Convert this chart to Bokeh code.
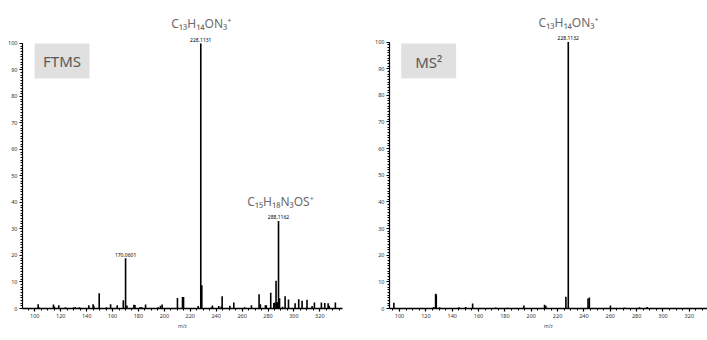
from bokeh.plotting import figure
from bokeh.layouts import row
from bokeh.models import SingleIntervalTicker, ColumnDataSource
from bokeh.core.properties import value
from bokeh.embed import file_html
from bokeh.resources import INLINE

# ---------------- data ----------------
# FTMS full scan spectrum (m/z, relative abundance)
ftms_mz = [102.6, 103.0, 114.4, 115.1, 118.5, 123.7, 130.0, 131.3, 134.5, 141.7, 145.0, 145.5,
           149.7, 155.4, 158.5, 163.6, 168.3, 170.06, 171.1, 176.5, 177.3, 181.1, 182.4, 185.5,
           195.2, 197.0, 198.3, 210.1, 214.0, 214.8, 226.1, 228.11, 228.9, 236.3, 237.1, 242.0,
           244.0, 244.6, 250.5, 253.6, 262.0, 267.2, 273.1, 274.1, 278.0, 278.7, 282.1, 284.5,
           285.3, 286.2, 286.8, 287.5, 288.11, 288.9, 291.2, 293.2, 295.8, 300.9, 303.7, 306.3,
           310.1, 314.0, 315.8, 321.2, 323.8, 326.4, 327.2, 332.0]
ftms_int = [1.6, 0.6, 1.5, 0.8, 1.2, 0.5, 0.5, 0.5, 0.5, 1.2, 1.6, 1.0,
            5.8, 0.5, 1.6, 1.2, 3.1, 19.0, 1.1, 1.4, 1.3, 0.5, 0.6, 1.5,
            0.5, 1.0, 1.5, 4.0, 4.3, 4.3, 0.9, 100.0, 8.8, 0.5, 1.1, 0.9,
            0.8, 4.6, 1.0, 2.3, 0.5, 1.2, 5.4, 1.6, 1.2, 1.2, 5.9, 2.1,
            2.3, 10.5, 2.4, 2.4, 33.0, 3.9, 0.7, 4.6, 3.4, 2.0, 3.5, 2.9,
            3.3, 0.9, 2.3, 2.3, 2.1, 2.0, 1.0, 2.3]

# MS2 product ion spectrum
ms2_mz = [95.7, 125.9, 127.4, 127.9, 130.4, 145.1, 150.2, 155.5, 173.0, 181.9, 194.4,
          210.1, 211.1, 226.3, 228.11, 243.1, 244.1, 260.1, 270.7, 282.2, 288.0]
ms2_int = [2.2, 0.6, 5.5, 5.3, 0.5, 0.5, 0.6, 1.9, 0.4, 0.3, 1.1,
           1.4, 1.0, 4.4, 100.0, 3.8, 4.1, 1.1, 0.4, 0.5, 0.6]

# peak annotations
ftms_lab_mz = [170.06, 228.11, 288.11]
ftms_lab_int = [19.0, 100.0, 33.0]
ftms_lab_txt = ["170.0601", "228.1131", "288.1162"]
ms2_lab_mz = [228.11]
ms2_lab_int = [100.0]
ms2_lab_txt = ["228.1132"]

# formula annotations (text, m/z anchor, height)
ftms_formulas = ["C\u2081\u2083H\u2081\u2084ON\u2083\u207a", "C\u2081\u2085H\u2081\u2088N\u2083OS\u207a"]
ftms_formula_mz = [228.5, 289.6]
ftms_formula_y = [107.5, 40.2]
ms2_formulas = ["C\u2081\u2083H\u2081\u2084ON\u2083\u207a"]
ms2_formula_mz = [228.3]
ms2_formula_y = [107.3]

panel_titles = ["FTMS", "MS\u00b2"]
x_label = "m/z"

FONT = "Noto Sans"
GREY = "#6b6b6b"


def make_panel(mz, inten, lab_mz, lab_int, lab_txt, f_txt, f_mz, f_y, title,
               x_range, y_end, width, height, border_left, border_right, border_bottom,
               box, box_text_xy):
    p = figure(width=width, height=height, x_range=x_range, y_range=(0, y_end),
               output_backend="svg", toolbar_location=None,
               min_border_left=border_left, min_border_right=border_right,
               min_border_top=8, min_border_bottom=border_bottom)
    p.outline_line_color = None
    p.xgrid.visible = False
    p.ygrid.visible = False

    src = ColumnDataSource(dict(x=mz, y=inten, y0=[0] * len(mz)))
    p.segment(x0="x", y0="y0", x1="x", y1="y", source=src,
              line_color="black", line_width=1.6)

    ls = ColumnDataSource(dict(x=lab_mz, y=[v + 0.6 for v in lab_int], t=lab_txt))
    p.text(x="x", y="y", text="t", source=ls, text_font=value(FONT),
           text_font_size="5px", text_align="center", text_baseline="bottom",
           text_color="black")

    fs = ColumnDataSource(dict(x=f_mz, y=f_y, t=f_txt))
    p.text(x="x", y="y", text="t", source=fs, text_font=value(FONT),
           text_font_size="12px", text_align="center", text_baseline="middle",
           text_color=GREY)

    p.quad(left=[box[0]], right=[box[1]], bottom=[box[2]], top=[box[3]],
           fill_color="#e0e0e0", line_color=None)
    p.text(x=[box_text_xy[0]], y=[box_text_xy[1]], text=[title],
           text_font=value(FONT), text_font_size="15px", text_align="center",
           text_baseline="middle", text_color="#595959")

    xa = p.xaxis[0]
    xa.ticker = SingleIntervalTicker(interval=20, num_minor_ticks=4)
    xa.axis_label = x_label
    xa.axis_label_text_font = FONT
    xa.axis_label_text_font_size = "5px"
    xa.axis_label_text_font_style = "normal"
    xa.axis_label_standoff = 2
    xa.major_label_text_font = FONT
    xa.major_label_text_font_size = "5.5px"
    xa.major_label_text_color = "#333333"
    xa.major_label_standoff = 2
    xa.axis_line_width = 1.6
    xa.major_tick_out = 3
    xa.major_tick_in = 0
    xa.minor_tick_out = 2
    xa.minor_tick_in = 0
    xa.major_tick_line_width = 1.2
    xa.minor_tick_line_width = 1.0

    ya = p.yaxis[0]
    ya.ticker = SingleIntervalTicker(interval=10, num_minor_ticks=10)
    ya.bounds = (0, 100)
    ya.major_label_text_font = FONT
    ya.major_label_text_font_size = "5.5px"
    ya.major_label_text_color = "#333333"
    ya.major_label_standoff = 2
    ya.axis_line_width = 1.2
    ya.major_tick_out = 3
    ya.major_tick_in = 0
    ya.minor_tick_out = 2
    ya.minor_tick_in = 0
    ya.major_tick_line_width = 1.2
    ya.minor_tick_line_width = 1.0
    return p


left = make_panel(ftms_mz, ftms_int, ftms_lab_mz, ftms_lab_int, ftms_lab_txt,
                  ftms_formulas, ftms_formula_mz, ftms_formula_y, panel_titles[0],
                  (90.5, 337.5), 113.2, 358, 332, 22, 16, 24,
                  (99.8, 142.2, 86.8, 100.0), (121.0, 93.4))
right = make_panel(ms2_mz, ms2_int, ms2_lab_mz, ms2_lab_int, ms2_lab_txt,
                   ms2_formulas, ms2_formula_mz, ms2_formula_y, panel_titles[1],
                   (92.4, 333.8), 112.6, 349, 332, 31, 0, 22,
                   (101.3, 143.0, 86.4, 99.5), (122.2, 92.4))

layout = row(left, right)
open("out.html", "w").write(file_html(layout, INLINE))
